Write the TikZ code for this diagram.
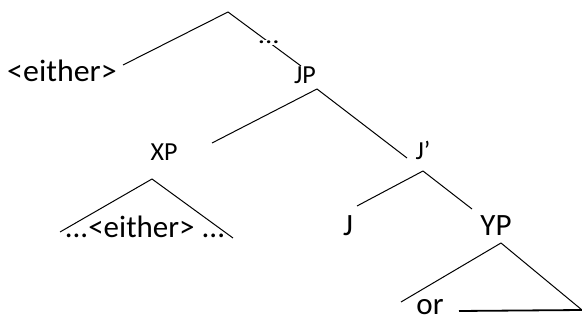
\documentclass[tikz,border=0pt]{standalone}
\usepackage{fontspec}
\setmainfont{Carlito}
\begin{document}
\begin{tikzpicture}[x=1pt,y=-1pt,
  bigtxt/.style={inner sep=0pt,anchor=base,font=\fontsize{31}{36}\selectfont},
  smalltxt/.style={inner sep=0pt,anchor=base,font=\fontsize{26}{30}\selectfont},
  edge/.style={draw=black,line width=1pt},
  thickedge/.style={draw=black,line width=1.8pt}]
\useasboundingbox (0,0) rectangle (582,323);
% texts
\node[bigtxt,anchor=base west] (either) at (7,82) {\scalebox{1.03}[1]{<either>}};
\node[smalltxt] (jp) at (305,84) {JP};
\node[smalltxt] (xp) at (164,161) {XP};
\node[smalltxt] (jbar) at (423,160) {J’};
\node[bigtxt] (j) at (348,236) {J};
\node[bigtxt] (yp) at (496,236) {YP};
\node[bigtxt] (sub) at (145,238) {...<either> ...};
\node[bigtxt] (or) at (430,315) {or};
% coordinates
\coordinate (root) at (228,12);
\coordinate (rootL) at (123,65);
\coordinate (rootR) at (301,66);
\coordinate (jpTop) at (317,89);
\coordinate (jpL) at (212,143);
\coordinate (jpR) at (407,158);
\coordinate (xpTop) at (152,179);
\coordinate (xpL) at (60,232);
\coordinate (xpR) at (233,238);
\coordinate (jbTop) at (423,171);
\coordinate (jbL) at (357,206);
\coordinate (jbR) at (472,209);
\coordinate (ypTop) at (501,243);
\coordinate (ypL) at (401,302);
\coordinate (ypR) at (582,310);
\coordinate (hL) at (459,311);
% edges
\draw[edge] (root) -- (rootL);
\draw[edge] (root) -- (rootR) node[pos=0.56,fill=white,inner sep=1pt,font=\fontsize{24}{28}\selectfont] (dots) {\scalebox{1.2}[1]{...}};
\draw[edge] (jpTop) -- (jpL);
\draw[edge] (jpTop) -- (jpR);
\draw[edge] (xpTop) -- (xpL);
\draw[edge] (xpTop) -- (xpR);
\draw[edge] (jbTop) -- (jbL);
\draw[edge] (jbTop) -- (jbR);
\draw[edge] (ypTop) -- (ypL);
\draw[edge] (ypTop) -- (ypR);
\draw[thickedge] (hL) -- (ypR);
\end{tikzpicture}
\end{document}
